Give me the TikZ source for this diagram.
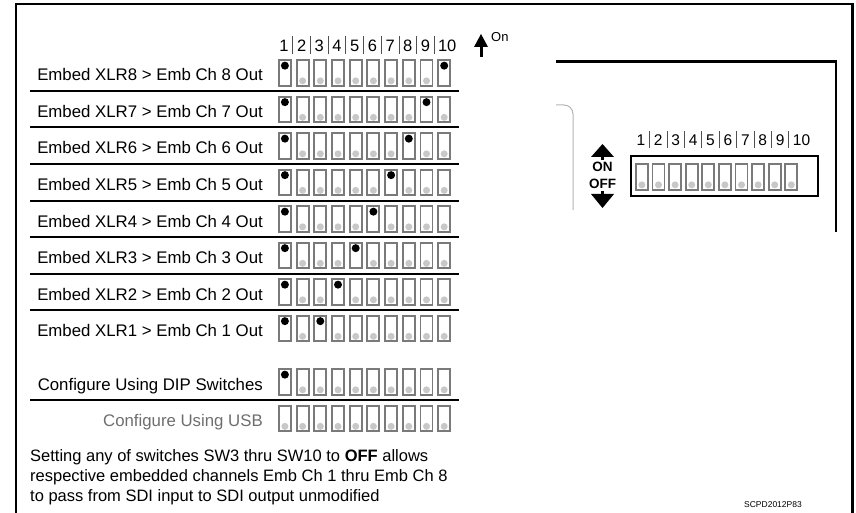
\documentclass[tikz,border=0pt]{standalone}
\usepackage{fontspec}
\setmainfont{Liberation Sans}
\definecolor{swgray}{HTML}{7A7A7A}
\definecolor{dotgray}{HTML}{C8C8C8}
\definecolor{txtgray}{HTML}{6E6E6E}
\definecolor{curvegray}{HTML}{B4B4B4}
\definecolor{sepgray}{HTML}{505050}
\tikzset{
  frameline/.style={line width=2.5pt},
  rowline/.style={line width=2pt},
  swbox/.style={draw=swgray, line width=1.9pt, minimum width=12pt, minimum height=25.5pt, inner sep=0pt},
  ondot/.style={fill=black, circle, inner sep=0pt, minimum size=8pt},
  offdot/.style={fill=dotgray, circle, inner sep=0pt, minimum size=7pt},
  lbl/.style={font=\fontsize{16.8}{20}\selectfont, anchor=base east, inner sep=0pt},
  numlbl/.style={font=\fontsize{16.5}{20}\selectfont, anchor=base, inner sep=0pt},
  note/.style={font=\fontsize{16.5}{20}\selectfont, anchor=base west, inner sep=0pt},
  sep/.style={draw=sepgray, line width=0.8pt},
  onoff/.style={font=\fontsize{13.5}{15}\selectfont\bfseries, inner sep=0pt},
}
% #1 name, #2 left x, #3 top y, #4 switch 1 on (1/0), #5 other on index, #6 pitch
\newcommand\swrow[6]{%
  \foreach \k in {1,...,10}{%
    \node[swbox, anchor=north west] (#1-\k) at ({#2+0.95+#6*(\k-1)}, {#3+0.95}) {};
    \def\swon{0}%
    \ifnum\k=1 \ifnum#4=1 \def\swon{1}\fi\fi
    \ifnum\k=#5 \def\swon{1}\fi
    \ifnum\swon=1
      \node[ondot] (#1-\k-d) at ([yshift=-6.2pt]#1-\k.north) {};
    \else
      \node[offdot] (#1-\k-d) at ([yshift=6pt]#1-\k.south) {};
    \fi
  }%
}
\begin{document}
\begin{tikzpicture}[x=1pt,y=-1pt]
\useasboundingbox (0,0) rectangle (856,513);
% outer frame
\draw[frameline] (16,513) |- (852.7,4) -- (852.7,513);

% header numbers (left)
\foreach \k in {1,...,9}{
  \node[numlbl] (h-\k) at ({283.9+17.7*(\k-1)}, 52) {\k};
}
\node[numlbl] (h-10) at ({283.9+17.7*9+4}, 52) {10};
\foreach \k in {1,...,9}{
  \draw[sep] ({283.9+17.7*(\k-0.5)}, 36) -- ({283.9+17.7*(\k-0.5)}, 54);
}
% On arrow
\fill (474,47) -- (488,47) -- (481,34) -- cycle;
\fill (479.5,46) rectangle (482.5,57);
\node[font=\fontsize{13}{14}\selectfont, anchor=base west, inner sep=0pt] (onlbl) at (491,41.5) {On};

% rows
\foreach \r/\n in {0/8,1/7,2/6,3/5,4/4,5/3,6/2,7/1}{
  \pgfmathsetmacro\ytop{58.5+36.5*\r}
  \pgfmathtruncatemacro\onk{\n+2}
  \swrow{row\n}{277}{\ytop}{1}{\onk}{17.7}
  \node[lbl] (lab\n) at (263, {91+36.5*\r-10}) {Embed XLR\n\ > Emb Ch \n\ Out};
}
\foreach \r in {0,...,6}{
  \draw[rowline] (30, {91+36.5*\r}) -- (459, {91+36.5*\r});
}
% DIP row
\swrow{dip}{277}{367.5}{1}{0}{17.7}
\node[lbl] (labdip) at (263,390) {Configure Using DIP Switches};
\draw[rowline] (30,400) -- (459,400);
% USB row
\swrow{usb}{277}{404}{0}{0}{17.7}
\node[lbl, text=txtgray] (labusb) at (263,426.5) {Configure Using USB};

% note text
\node[note] (n1) at (30,461) {Setting any of switches SW3 thru SW10 to \textbf{OFF} allows};
\node[note] (n2) at (30,481) {respective embedded channels Emb Ch 1 thru Emb Ch 8};
\node[note] (n3) at (30,501) {to pass from SDI input to SDI output unmodified};

% right panel
\draw[frameline] (556,61.5) -| (836,232);
\draw[curvegray, line width=1pt, rounded corners=9pt] (556,105) -| (573,210);
% ON / OFF indicator
\fill (591,157) -- (614,157) -- (602.5,144) -- cycle;
\fill (601,156) rectangle (604,160);
\node[onoff] (onw) at (602.5,166.5) {ON};
\node[onoff] (offw) at (602.5,183.5) {OFF};
\fill (601,191) rectangle (604,195);
\fill (591,194) -- (614,194) -- (602.5,208) -- cycle;
% right switch block
\draw[line width=2pt] (631,156) rectangle (818,196);
\swrow{rp}{634}{162.5}{0}{0}{16.6}
\foreach \k in {1,...,9}{
  \node[numlbl, font=\fontsize{15.5}{18}\selectfont] (rh-\k) at ({640.9+17.4*(\k-1)}, 146) {\k};
}
\node[numlbl, font=\fontsize{15.5}{18}\selectfont] (rh-10) at ({640.9+17.4*9+4}, 146) {10};
\foreach \k in {1,...,9}{
  \draw[sep] ({640.9+17.4*(\k-0.5)}, 131) -- ({640.9+17.4*(\k-0.5)}, 148);
}

\node[font=\fontsize{8.5}{10}\selectfont, anchor=base east, inner sep=0pt] (code) at (802,507) {SCPD2012P83};
\end{tikzpicture}
\end{document}
